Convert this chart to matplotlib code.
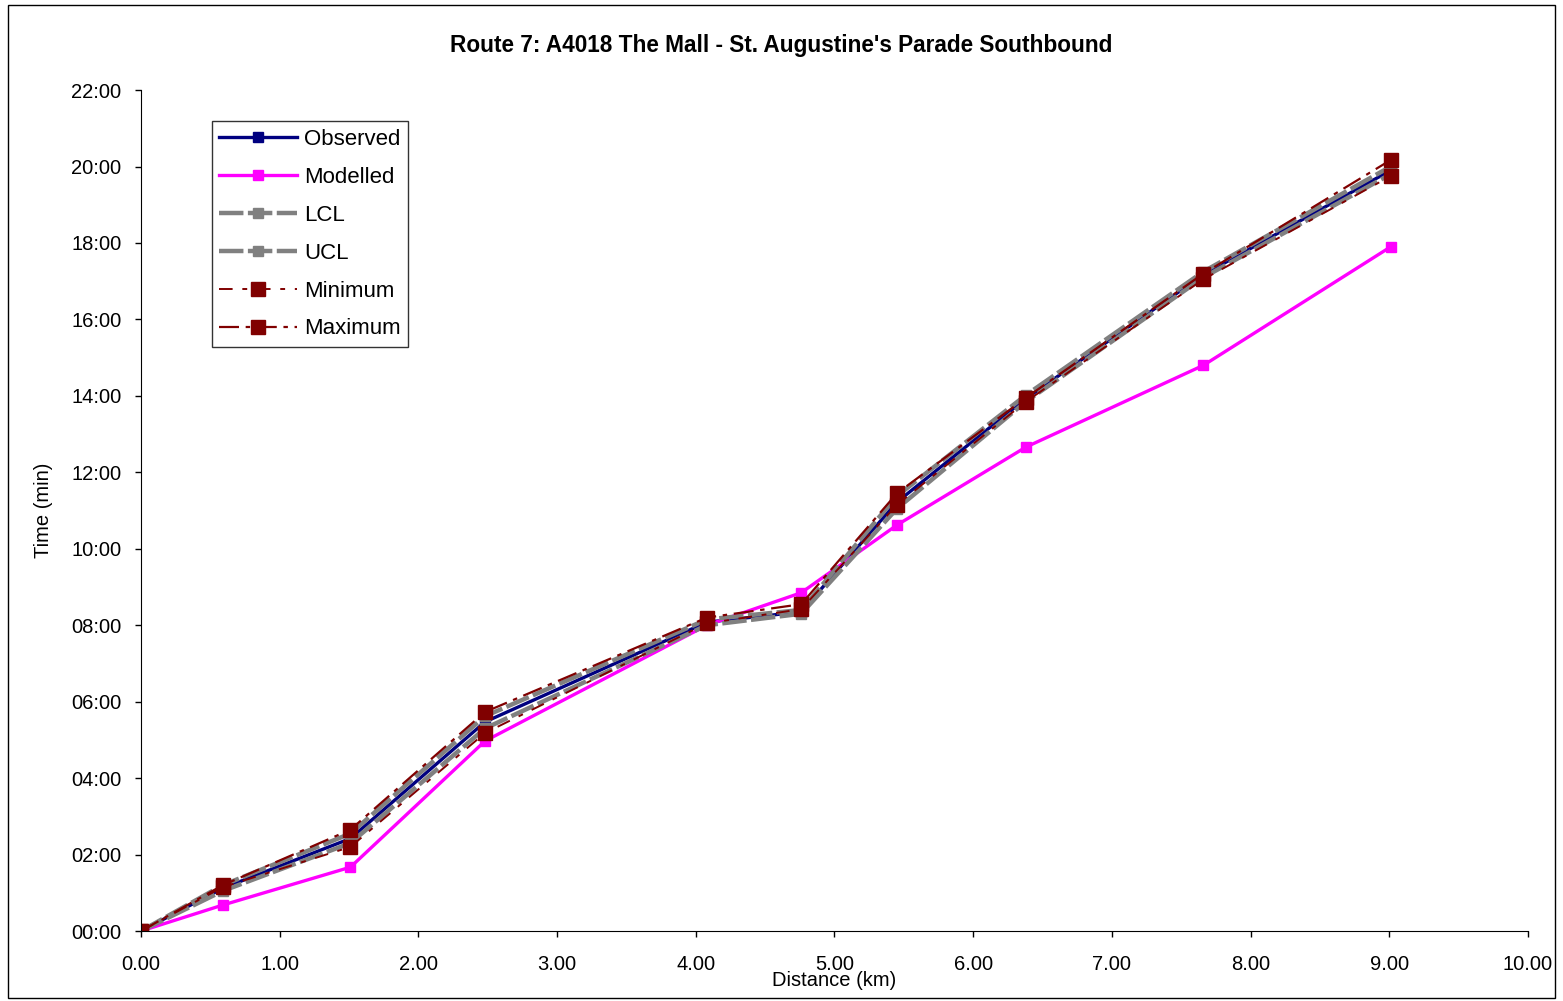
import matplotlib
matplotlib.use("Agg")
import matplotlib.pyplot as plt
from matplotlib.patches import Rectangle
from matplotlib.ticker import FuncFormatter, MultipleLocator

plt.rcParams['font.family'] = ['Liberation Sans', 'DejaVu Sans']

# distance along route (km) and cumulative journey time (minutes)
distance = [0.0, 0.59, 1.51, 2.48, 4.08, 4.76, 5.45, 6.38, 7.66, 9.01]
observed = [0.0, 1.12, 2.42, 5.47, 8.08, 8.35, 11.22, 13.93, 17.17, 19.90]
modelled = [0.0, 0.68, 1.67, 4.97, 8.00, 8.85, 10.62, 12.66, 14.80, 17.90]
lcl = [0.0, 1.05, 2.30, 5.30, 8.00, 8.30, 11.05, 13.85, 17.10, 19.80]
ucl = [0.0, 1.20, 2.55, 5.62, 8.15, 8.40, 11.38, 14.02, 17.25, 20.00]
minimum = [0.0, 1.15, 2.20, 5.18, 8.05, 8.42, 11.15, 13.85, 17.05, 19.75]
maximum = [0.0, 1.20, 2.65, 5.73, 8.20, 8.55, 11.45, 13.95, 17.20, 20.17]


def mmss(v, pos):
    m = int(v)
    s = int(round((v - m) * 60))
    return "%02d:%02d" % (m, s)


def main():
    fig = plt.figure(figsize=(15.63, 10.01), dpi=100)
    ax = fig.add_axes([0.0902, 0.0699, 0.8874, 0.8401])

    ax.plot(distance, observed, color="#000080", lw=2.4, marker="s", ms=7,
            label="Observed")
    ax.plot(distance, modelled, color="#FF00FF", lw=2.4, marker="s", ms=7.5,
            label="Modelled")
    ax.plot(distance, lcl, color="#808080", lw=3.2, ls=(0, (5.5, 1.0)),
            marker="s", ms=7.5, label="LCL")
    ax.plot(distance, ucl, color="#808080", lw=3.2, ls=(0, (5.5, 1.0)),
            marker="s", ms=7.5, label="UCL")
    ax.plot(distance, minimum, color="#800000", lw=1.4, ls=(0, (7, 5, 2.5, 5)),
            marker="s", ms=9.5, label="Minimum")
    ax.plot(distance, maximum, color="#800000", lw=1.6, ls=(0, (9, 3, 2, 3)),
            marker="s", ms=9.5, label="Maximum")

    ax.set_xlim(0, 10)
    ax.set_ylim(0, 22)
    ax.xaxis.set_major_locator(MultipleLocator(1))
    ax.yaxis.set_major_locator(MultipleLocator(2))
    ax.xaxis.set_major_formatter(FuncFormatter(lambda v, p: "%.2f" % v))
    ax.yaxis.set_major_formatter(FuncFormatter(mmss))
    ax.tick_params(direction="out", length=4, labelsize=14.5, width=1)
    ax.tick_params(axis="x", pad=13)
    ax.tick_params(axis="y", pad=10)
    for side in ("top", "right"):
        ax.spines[side].set_visible(False)

    ax.set_xlabel("Distance (km)", fontsize=14.5, labelpad=-2)
    ax.set_ylabel("Time (min)", fontsize=14.5, labelpad=13)
    fig.text(0.5, 0.955, "Route 7: A4018 The Mall - St. Augustine's Parade Southbound",
             ha="center", va="center", fontsize=16.3, fontweight="bold")

    leg = ax.legend(loc="upper left", bbox_to_anchor=(0.051, 0.963),
                    fontsize=16, handlelength=3.5, frameon=True, fancybox=False,
                    borderpad=0.35, labelspacing=0.76, handletextpad=0.3,
                    borderaxespad=0)
    leg.get_frame().set_edgecolor("black")
    leg.get_frame().set_linewidth(1)

    fig.patches.append(Rectangle((0.005, 0.003), 0.99, 0.992, transform=fig.transFigure,
                                 fill=False, edgecolor="black", lw=1))

    fig.savefig("out.png", dpi=100)


if __name__ == "__main__":
    main()
